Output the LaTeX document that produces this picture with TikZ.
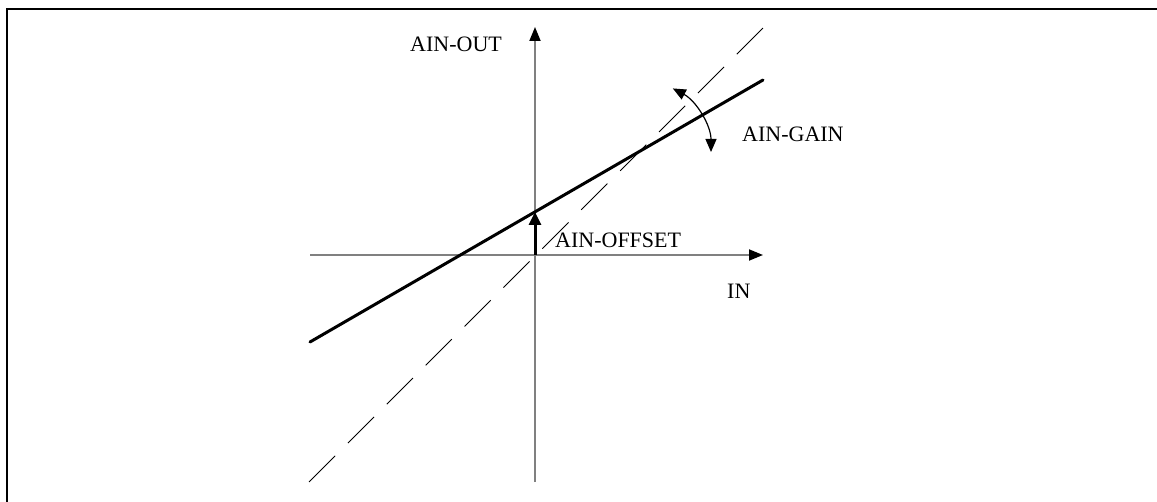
\documentclass[tikz,border=0pt]{standalone}
\usepackage{fontspec}
\setmainfont{Liberation Serif}
\usetikzlibrary{arrows.meta}
\begin{document}
\begin{tikzpicture}[x=1pt,y=-1pt,
  axis/.style={draw=black!50,line width=1.8pt,-{Triangle[length=14pt,width=11pt,fill=black,color=black]}},
  thickline/.style={line width=3pt,line cap=round},
  dashline/.style={line width=0.9pt,dash pattern=on 37pt off 18pt},
  arr/.style={-{Triangle[length=13pt,width=12pt]}},
  lbl/.style={font=\fontsize{22}{26}\selectfont,inner sep=0pt,anchor=base west}]
\useasboundingbox (0,0) rectangle (1157,502);
% frame
\draw[line width=2.8pt] (7,502) -- (7,9) -- (1157,9);
% coordinates
\coordinate (O) at (535,255);
\coordinate (ybot) at (535,482);
\coordinate (ytop) at (535,27);
\coordinate (xl) at (310,255);
\coordinate (xr) at (763,255);
\coordinate (s1) at (310,342);
\coordinate (s2) at (763,80);
\coordinate (d1) at (309,482);
\coordinate (d2) at (763,28);
\coordinate (off) at (535,212);
\coordinate (C) at (639,152);
% axes
\draw[axis] (ybot) -- (ytop);
\draw[axis] (xl) -- (xr);
% lines
\draw[dashline] (d1) -- (d2);
\draw[thickline] (s1) -- (s2);
% offset arrow
\draw[line width=3pt,arr] (O) -- (off);
% gain arc
\draw[line width=1.2pt,{Triangle[length=13pt,width=11pt]}-{Triangle[length=13pt,width=11pt]}]
  (C) ++(-62:72) arc[start angle=-62,end angle=0,radius=72];
% labels
\node[lbl] (lout) at (410,52) {AIN-OUT};
\node[lbl] (lgain) at (742,142) {AIN-GAIN};
\node[lbl] (loff) at (555,248) {AIN-OFFSET};
\node[lbl] (lin) at (727,299) {IN};
\end{tikzpicture}
\end{document}
